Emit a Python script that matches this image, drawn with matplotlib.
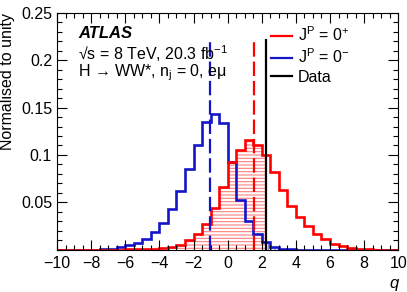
import numpy as np
import matplotlib
matplotlib.use("Agg")
import matplotlib.pyplot as plt
from matplotlib.ticker import MultipleLocator

plt.rcParams['font.family'] = ['Liberation Sans', 'DejaVu Sans']
plt.rcParams['mathtext.fontset'] = 'custom'
plt.rcParams['mathtext.rm'] = 'Liberation Sans'
plt.rcParams['mathtext.it'] = 'Liberation Sans:italic'
plt.rcParams['mathtext.bf'] = 'Liberation Sans:bold'
plt.rcParams['font.size'] = 11.5
plt.rcParams['hatch.linewidth'] = 0.8

# histogram binning of q (0.5 wide bins from -10 to 10)
bin_edges = np.arange(-10, 10.5, 0.5)

# J^P = 0+ expectation
red_vals = [0.0001, 0.0001, 0.0001, 0.0001, 0.0002, 0.0002, 0.0003, 0.0004, 0.0005, 0.0007,
            0.001, 0.0014, 0.002, 0.0035, 0.0055, 0.010, 0.017, 0.027, 0.044, 0.066,
            0.093, 0.105, 0.116, 0.110, 0.100, 0.082, 0.063, 0.046, 0.035, 0.0255,
            0.0167, 0.0116, 0.0067, 0.0038, 0.002, 0.0012, 0.0007, 0.0004, 0.0003, 0.0002]

# J^P = 0- expectation
blue_vals = [0.0001, 0.0001, 0.0001, 0.0002, 0.0002, 0.0005, 0.001, 0.0028, 0.005, 0.007,
             0.0116, 0.0186, 0.0288, 0.043, 0.062, 0.085, 0.110, 0.135, 0.143, 0.134,
             0.093, 0.053, 0.030, 0.0165, 0.008, 0.0035, 0.0015, 0.0008, 0.0003, 0.0002,
             0.0001, 0.0001, 0.0001, 0.0001, 0.0001, 0.0001, 0.0001, 0.0001, 0.0001, 0.0001]

# medians and observed value
red_median = 1.55
blue_median = -1.05
q_obs = 2.27
line_top = 0.222

red_vals = np.array(red_vals)
blue_vals = np.array(blue_vals)
RED = '#ff0000'
BLUE = '#1414c8'

fig = plt.figure(figsize=(4.07, 2.92), dpi=100)
ax = fig.add_axes([0.140, 0.144, 0.8386, 0.813])


def hatched_part(vals, lo, hi):
    # step outline of a histogram restricted to [lo, hi]
    x = np.clip(bin_edges, lo, hi)
    y = np.append(vals, vals[-1])
    return x, y


# red hatched region q < q_obs
x, y = hatched_part(red_vals, -10, q_obs)
ax.fill_between(x, 0, y, step='post', facecolor='none', edgecolor='#ff8080',
                linewidth=0, hatch='-----')
# blue hatched region q > q_obs
x, y = hatched_part(blue_vals, q_obs, 10)
ax.fill_between(x, 0, y, step='post', facecolor='none', edgecolor='#7a7ae0',
                linewidth=0, hatch='|||||')

ax.stairs(blue_vals, bin_edges, color=BLUE, linewidth=1.9)
ax.stairs(red_vals, bin_edges, color=RED, linewidth=1.9)

ax.vlines(blue_median, 0, line_top, color=BLUE, linewidth=1.6, linestyles=(0, (6.5, 2.2)))
ax.vlines(red_median, 0, line_top, color=RED, linewidth=1.6, linestyles=(0, (6.5, 2.2)))
ax.vlines(q_obs, 0, line_top, color='black', linewidth=1.6)

# legend
ax.plot([], [], color=RED, linewidth=1.6, label='J$^{\\mathrm{P}}$ = 0$^{+}$')
ax.plot([], [], color=BLUE, linewidth=1.6, label='J$^{\\mathrm{P}}$ = 0$^{-}$')
ax.plot([], [], color='black', linewidth=1.6, label='Data')
ax.legend(loc='upper left', bbox_to_anchor=(0.603, 0.978), frameon=False,
          handlelength=1.3, handletextpad=0.4, labelspacing=0.2, borderpad=0,
          fontsize=11.5)

ax.text(0.062, 0.91, 'ATLAS', transform=ax.transAxes, fontsize=12,
        fontweight='bold', style='italic', va='center')
ax.text(0.062, 0.828, '\u221as = 8 TeV, 20.3 fb$^{-1}$', transform=ax.transAxes,
        va='center')
ax.text(0.062, 0.748, 'H \u2192 WW*, n$_{\\mathrm{j}}$ = 0, e\u03bc', transform=ax.transAxes,
        va='center')

ax.set_xlim(-10, 10)
ax.set_ylim(0, 0.25)
ax.set_xticks(np.arange(-10, 11, 2))
ax.set_yticks([0.05, 0.1, 0.15, 0.2, 0.25])
ax.set_yticklabels(['0.05', '0.1', '0.15', '0.2', '0.25'])
ax.xaxis.set_minor_locator(MultipleLocator(0.5))
ax.yaxis.set_minor_locator(MultipleLocator(0.01))
ax.tick_params(which='both', direction='in', top=True, right=True, width=0.8,
               labelsize=11.5)
ax.tick_params(which='major', length=7)
ax.tick_params(which='minor', length=3.5)
ax.tick_params(axis='x', pad=4)

ax.set_xlabel('q', loc='right', style='italic', fontsize=12)
ax.set_ylabel('Normalised to unity', loc='top', fontsize=11.5)

fig.savefig('out.png', dpi=100)
